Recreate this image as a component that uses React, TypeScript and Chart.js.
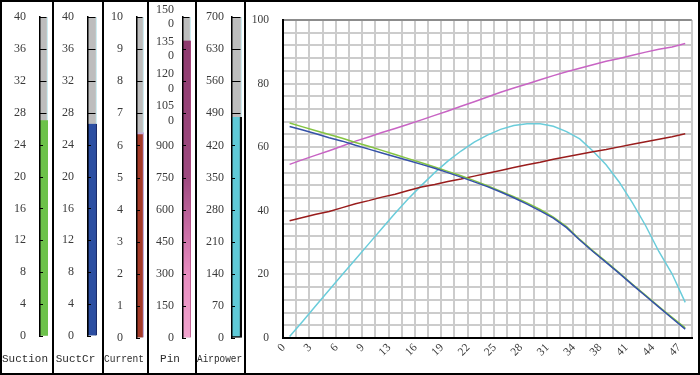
import React, { useEffect, useRef } from "react";
import { Chart, registerables } from "chart.js";
Chart.register(...registerables);

// ---------- data ----------
const gaugeNames = ["Suction", "SuctCr", "Current", "Pin", "Airpower"];
const gaugeMax = [40, 40, 10, 1500, 700];
const gaugeStep = [4, 4, 1, 150, 70];
const gaugeValues = [27.0, 26.6, 6.4, 1390, 482];

const xLabels = ["0", "", "3", "", "6", "", "9", "", "13", "", "16", "", "19", "", "22", "", "25", "", "28", "", "31", "", "34", "", "38", "", "41", "", "44", "", "47"];
const seriesGreen = [67.6, 66.4, 65.2, 64.0, 62.8, 61.5, 60.3, 59.0, 57.7, 56.4, 55.1, 53.8, 52.4, 51.0, 49.5, 47.9, 46.2, 44.4, 42.5, 40.4, 38.0, 35.0, 31.0, 27.4, 24.0, 20.5, 16.9, 13.4, 9.9, 6.5, 3.2];
const seriesBlue = [66.5, 65.4, 64.2, 63.0, 61.9, 60.6, 59.4, 58.2, 57.0, 55.8, 54.6, 53.4, 52.0, 50.6, 49.1, 47.6, 45.9, 44.1, 42.1, 40.0, 37.7, 34.7, 30.8, 27.2, 23.8, 20.3, 16.7, 13.2, 9.7, 6.2, 2.8];
const seriesRed = [36.9, 37.9, 38.9, 39.8, 41.0, 42.2, 43.2, 44.3, 45.2, 46.4, 47.5, 48.3, 49.2, 50.0, 50.9, 51.8, 52.7, 53.6, 54.5, 55.3, 56.2, 57.0, 57.8, 58.6, 59.3, 60.1, 60.9, 61.7, 62.5, 63.3, 64.2];
const seriesMagenta = [54.6, 56.1, 57.5, 58.9, 60.4, 61.9, 63.2, 64.6, 65.9, 67.2, 68.6, 70.0, 71.4, 72.9, 74.3, 75.8, 77.3, 78.6, 79.9, 81.2, 82.5, 83.7, 84.8, 85.9, 87.0, 87.9, 88.9, 89.9, 90.8, 91.5, 92.6];
const seriesCyan = [0.5, 5.3, 10.2, 15.1, 20.0, 24.8, 29.6, 34.4, 39.2, 43.8, 48.0, 52.0, 55.6, 58.8, 61.6, 63.8, 65.6, 66.8, 67.4, 67.4, 66.6, 64.9, 62.6, 58.8, 54.5, 49.0, 42.5, 35.3, 27.2, 20.2, 11.2];

// ---------- layout / style ----------
const panelFrames = [
  { left: 0, width: 54 },
  { left: 52, width: 52 },
  { left: 102, width: 47 },
  { left: 147, width: 50 },
  { left: 195, width: 51 },
  { left: 244, width: 456 },
];
const CANVAS_H = 371;

const gaugeStyles: any[] = [
  { barLeft: 38, padRight: 4, zeroY: 334, tickPad: 14, fill: "#6CC24A", edge: "#4F9A33", edgeW: { left: 0 } },
  { barLeft: 34, padRight: 5, zeroY: 334, tickPad: 14, fill: "#2B4EA2", edge: "#1A2C6B", edgeW: { left: 1, right: 1.5 } },
  { barLeft: 33, padRight: 3, zeroY: 336, tickPad: 14, fill: "#A43A28", edge: "#C4AEDC", edgeW: { right: 1.5, top: 2 } },
  { barLeft: 34, padRight: 4, zeroY: 336, tickPad: 9, fill: "pin", edge: "#B0487F", edgeW: { right: 1 } },
  { barLeft: 35, padRight: 2, zeroY: 336, tickPad: 8, fill: "#5FCAD8", edge: "#0A0A0A", edgeW: { right: 2.5, bottom: 1.5 } },
];

const textColor = "#3A3A3A";

function Gauge({ idx, w }: { idx: number; w: number }) {
  const ref = useRef<HTMLCanvasElement>(null);
  useEffect(() => {
    const st = gaugeStyles[idx];
    const fill =
      st.fill === "pin"
        ? (c: any) => {
            const area = c.chart.chartArea;
            if (!area) return "#B0487F";
            const g = c.chart.ctx.createLinearGradient(0, area.top, 0, area.bottom);
            g.addColorStop(0, "#8C386C");
            g.addColorStop(0.5, "#9E4A80");
            g.addColorStop(0.66, "#C86CA4");
            g.addColorStop(0.8, "#E88CC0");
            g.addColorStop(1, "#F2A4CE");
            return g;
          }
        : st.fill;
    const titleLine = 11 * 1.2;
    const padBottom = 7.4;
    const padTop = 357 - st.zeroY - titleLine / 2;
    const tickPlugin = {
      id: "gaugeTicks",
      afterDatasetsDraw(chart: any) {
        const y = chart.scales.y;
        const area = chart.chartArea;
        const ctx = chart.ctx;
        ctx.save();
        ctx.strokeStyle = "#000";
        ctx.lineWidth = 1;
        y.ticks.forEach((t: any) => {
          const py = Math.round(y.getPixelForValue(t.value)) + 0.5;
          const len = t.value > gaugeValues[idx] ? area.right - area.left - 1.5 : 3;
          ctx.beginPath();
          ctx.moveTo(area.left, py);
          ctx.lineTo(area.left + len, py);
          ctx.stroke();
        });
        ctx.restore();
      },
    };
    const chart = new Chart(ref.current as HTMLCanvasElement, {
      type: "bar",
      data: {
        labels: [gaugeNames[idx]],
        datasets: [
          {
            data: [gaugeValues[idx]],
            backgroundColor: fill as any,
            borderColor: st.edge,
            borderWidth: st.edgeW,
            borderSkipped: false,
            grouped: false,
            order: 1,
            barPercentage: 1,
            categoryPercentage: 1,
          } as any,
          {
            data: [gaugeMax[idx]],
            backgroundColor: "#BDBDBD",
            borderColor: "#CDEBF0",
            borderWidth: { right: 1.5 },
            borderSkipped: false,
            grouped: false,
            order: 2,
            barPercentage: 1,
            categoryPercentage: 1,
          } as any,
        ],
      },
      options: {
        animation: false,
        responsive: false,
        devicePixelRatio: 1,
        layout: { padding: { top: 15, right: st.padRight, left: 0, bottom: 0 } },
        plugins: {
          legend: { display: false },
          tooltip: { enabled: false },
          title: {
            display: true,
            text: gaugeNames[idx],
            position: "bottom",
            color: "#2A2A2A",
            font: { family: "'Liberation Mono', monospace", size: 11, weight: "normal" },
            padding: { top: padTop, bottom: padBottom },
          },
        },
        scales: {
          x: { display: false, offset: true },
          y: {
            min: 0,
            max: gaugeMax[idx],
            afterFit: (s: any) => {
              s.width = st.barLeft;
              s.paddingTop = 0;
              s.paddingBottom = 0;
            },
            ticks: {
              stepSize: gaugeStep[idx],
              autoSkip: false,
              padding: st.tickPad,
              color: textColor,
              font: { family: "'Liberation Serif', serif", size: 12 },
              callback: (v: any) => {
                const s = String(v);
                return s.length > 3 ? [s.slice(0, 3), s.slice(3)] : s;
              },
            },
            grid: { drawOnChartArea: false, drawTicks: false },
            border: { display: true, color: "#000", width: 1.5, z: 1 },
          } as any,
        },
      },
      plugins: [tickPlugin],
    });
    return () => chart.destroy();
  }, [idx]);
  return <canvas ref={ref} width={w} height={CANVAS_H} style={{ display: "block", width: w, height: CANVAS_H }} />;
}

function MainChart({ w }: { w: number }) {
  const ref = useRef<HTMLCanvasElement>(null);
  useEffect(() => {
    const font = { family: "'Liberation Serif', serif", size: 11.5 };
    const line = (data: number[], color: string) => ({
      data,
      borderColor: color,
      backgroundColor: color,
      borderWidth: 1.5,
      pointRadius: 0,
      tension: 0,
      fill: false,
    });
    const chart = new Chart(ref.current as HTMLCanvasElement, {
      type: "line",
      data: {
        labels: xLabels,
        datasets: [
          line(seriesBlue, "#3552A8"),
          line(seriesGreen, "#84C441"),
          line(seriesRed, "#991C1C"),
          line(seriesMagenta, "#C864C4"),
          line(seriesCyan, "#6ACCDA"),
        ],
      },
      options: {
        animation: false,
        responsive: false,
        devicePixelRatio: 1,
        layout: { padding: { top: 18, right: 1, left: 0, bottom: 0 } },
        plugins: { legend: { display: false }, tooltip: { enabled: false } },
        scales: {
          x: {
            type: "category",
            offset: true,
            afterFit: (s: any) => {
              s.height = 35;
            },
            grid: { offset: true, color: "#CCCCCC", lineWidth: 2, drawTicks: false },
            border: { color: "#000", width: 2 },
            ticks: {
              autoSkip: false,
              maxRotation: 45,
              minRotation: 45,
              padding: 3,
              labelOffset: -6,
              color: textColor,
              font,
            },
          } as any,
          y: {
            min: 0,
            max: 100,
            afterFit: (s: any) => {
              s.width = 37;
              s.paddingTop = 0;
              s.paddingBottom = 0;
            },
            ticks: {
              stepSize: 4,
              autoSkip: false,
              padding: 14,
              color: textColor,
              font,
              callback: (v: any) => (Number(v) % 20 === 0 ? String(v) : ""),
            },
            grid: {
              color: (c: any) => (c.tick && c.tick.value === 100 ? "#8C8C8C" : "#CCCCCC"),
              lineWidth: 2,
              drawTicks: false,
            },
            border: { color: "#000", width: 2 },
          } as any,
        },
      },
    });
    return () => chart.destroy();
  }, []);
  return <canvas ref={ref} width={w} height={CANVAS_H} style={{ display: "block", width: w, height: CANVAS_H }} />;
}

export default function App() {
  return (
    <div style={{ position: "fixed", left: 0, top: 0, width: 700, height: 375, background: "#fff", overflow: "hidden" }}>
      {panelFrames.map((p, i) => (
        <div
          key={i}
          style={{
            position: "absolute",
            left: p.left,
            top: 0,
            width: p.width,
            height: 375,
            boxSizing: "border-box",
            border: "2px solid #000",
            overflow: "hidden",
          }}
        >
          {i < 5 ? <Gauge idx={i} w={p.width - 4} /> : <MainChart w={p.width - 4} />}
        </div>
      ))}
    </div>
  );
}
